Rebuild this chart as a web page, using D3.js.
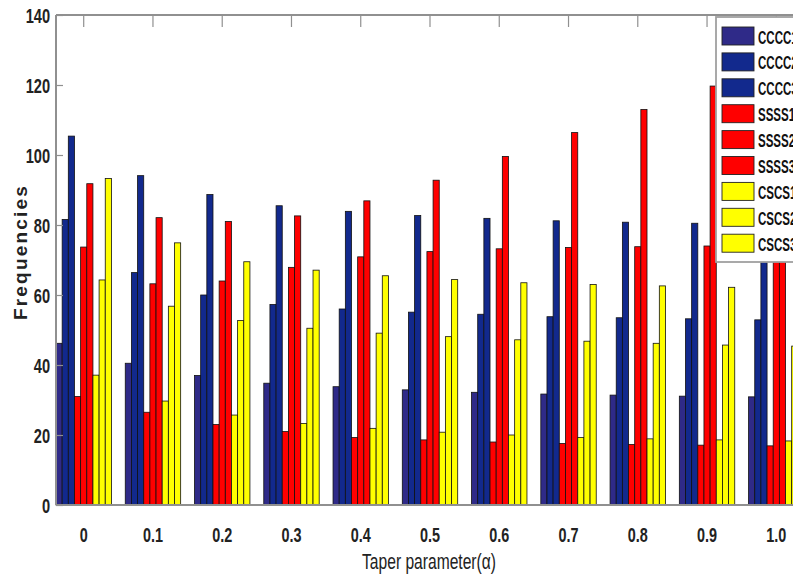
<!DOCTYPE html>
<html><head><meta charset="utf-8">
<script src="https://cdn.jsdelivr.net/npm/d3@7"></script>
<style>
html,body{margin:0;padding:0;background:#fff;overflow:hidden;}
svg{display:block;}
</style></head>
<body>
<svg id="chart" width="793" height="578"></svg>
<script>
const categories = ["0","0.1","0.2","0.3","0.4","0.5","0.6","0.7","0.8","0.9","1.0"];
const seriesNames = ["CCCC1","CCCC2","CCCC3","SSSS1","SSSS2","SSSS3","CSCS1","CSCS2","CSCS3"];
const CCCC1 = [46.2,40.5,37.0,34.8,33.8,32.9,32.2,31.7,31.4,31.1,30.9];
const CCCC2 = [81.6,66.4,60.0,57.3,56.0,55.1,54.5,53.8,53.5,53.2,52.9];
const CCCC3 = [105.4,94.1,88.7,85.5,83.9,82.7,81.9,81.2,80.8,80.5,80.3];
const SSSS1 = [31.0,26.5,23.0,21.0,19.3,18.6,18.0,17.6,17.3,17.1,16.9];
const SSSS2 = [73.7,63.2,64.0,67.9,70.9,72.4,73.2,73.6,73.8,74.0,74.2];
const SSSS3 = [91.8,82.1,81.0,82.6,86.9,92.8,99.6,106.4,113.0,119.7,126.3];
const CSCS1 = [37.1,29.7,25.7,23.3,21.9,20.8,20.0,19.3,18.9,18.6,18.3];
const CSCS2 = [64.3,56.8,52.7,50.5,49.1,48.1,47.2,46.8,46.2,45.7,45.4];
const CSCS3 = [93.3,74.9,69.5,67.1,65.5,64.4,63.5,63.0,62.6,62.2,61.8];
const yTicks = [0,20,40,60,80,100,120,140];
const colors = ["#2f2a88","#12298d","#12298d","#ff0000","#ff0000","#ff0000","#ffff00","#ffff00","#ffff00"];

const seriesValues = [CCCC1,CCCC2,CCCC3,SSSS1,SSSS2,SSSS3,CSCS1,CSCS2,CSCS3];

const svg = d3.select("#chart");
const L = 56, T = 15, B = 505, R = 804;
const font = "'Liberation Sans',Arial,sans-serif";

const x0 = d3.scaleBand().domain(categories).range([L, R]).paddingInner(0.2).paddingOuter(0);
const x1 = d3.scaleBand().domain(seriesNames).range([0, x0.bandwidth()]);
const y = d3.scaleLinear().domain([0,140]).range([B, T]);

svg.append("rect").attr("x", 0).attr("y", 0).attr("width", 793).attr("height", 578).attr("fill", "#fff");

// bars
const groups = svg.append("g").selectAll("g").data(categories).join("g")
  .attr("transform", d => `translate(${x0(d)},0)`);
groups.selectAll("rect")
  .data((d, i) => seriesNames.map((s, j) => ({s, j, v: seriesValues[j][i]})))
  .join("rect")
  .attr("x", d => x1(d.s))
  .attr("y", d => y(d.v))
  .attr("width", x1.bandwidth())
  .attr("height", d => B - y(d.v))
  .attr("fill", d => colors[d.j])
  .attr("stroke", "#111")
  .attr("stroke-width", 0.8);

// axes lines
const axisColor = "#909090";
const ax = svg.append("g");
ax.append("line").attr("x1", L).attr("x2", R).attr("y1", T).attr("y2", T).attr("stroke", axisColor).attr("stroke-width", 2);
ax.append("line").attr("x1", L).attr("x2", R).attr("y1", B).attr("y2", B).attr("stroke", axisColor).attr("stroke-width", 2);
ax.append("line").attr("x1", L).attr("x2", L).attr("y1", T).attr("y2", B).attr("stroke", axisColor).attr("stroke-width", 2);

// top ticks
ax.selectAll(".tt").data(categories).join("line")
  .attr("x1", d => x0(d) + x0.bandwidth()/2).attr("x2", d => x0(d) + x0.bandwidth()/2)
  .attr("y1", T).attr("y2", T + 12).attr("stroke", axisColor).attr("stroke-width", 1.2);

// y axis
const sY = 0.75;
const yAxis = d3.axisLeft(y).tickValues(yTicks).tickSize(-7).tickPadding(6).tickFormat(d3.format("d"));
const gy = svg.append("g").attr("transform", `translate(${L},0)`).call(yAxis);
gy.select(".domain").remove();
gy.selectAll(".tick line").attr("stroke", axisColor).attr("stroke-width", 1.2);
gy.selectAll(".tick text").attr("font-family", font).attr("font-size", 19.5).attr("font-weight", "bold")
  .attr("fill", "#222").attr("x", -6 / sY).attr("dy", "0.36em").attr("transform", `scale(${sY},1)`);

// x axis labels
const sX = 0.74;
const xAxis = d3.axisBottom(x0).tickSize(0).tickPadding(23);
const gx = svg.append("g").attr("transform", `translate(0,${B})`).call(xAxis);
gx.select(".domain").remove();
gx.selectAll(".tick text").attr("font-family", font).attr("font-size", 19.5).attr("font-weight", "bold")
  .attr("fill", "#222").attr("transform", `scale(${sX},1)`);

// axis titles
svg.append("g").attr("transform", "translate(429,569) scale(0.71,1)")
  .append("text").attr("text-anchor", "middle")
  .attr("font-family", font).attr("font-size", 22).attr("fill", "#222")
  .text("Taper parameter(α)");
svg.append("text").attr("transform", "translate(27,252) rotate(-90)").attr("text-anchor", "middle")
  .attr("font-family", font).attr("font-size", 19).attr("font-weight", "bold")
  .attr("letter-spacing", 2.2).attr("fill", "#222")
  .text("Frequencies");

// legend
const lg = svg.append("g").attr("transform", "translate(716,17)");
lg.append("rect").attr("x", 0).attr("y", 0).attr("width", 120).attr("height", 245)
  .attr("fill", "#fff").attr("stroke", "#a0a0a0").attr("stroke-width", 1.8);
const rowStep = 25.9;
const items = lg.selectAll(".it").data(seriesNames).join("g")
  .attr("transform", (d, i) => `translate(0,${10 + i * rowStep})`);
items.append("rect").attr("x", 6).attr("y", 0).attr("width", 32).attr("height", 18)
  .attr("fill", (d, i) => colors[i]).attr("stroke", "#222").attr("stroke-width", 0.9);
items.append("g").attr("transform", "translate(42,16.5) scale(0.64,1)")
  .append("text")
  .attr("font-family", font).attr("font-size", 18).attr("font-weight", "bold").attr("fill", "#111")
  .text(d => d);
</script>
</body></html>
